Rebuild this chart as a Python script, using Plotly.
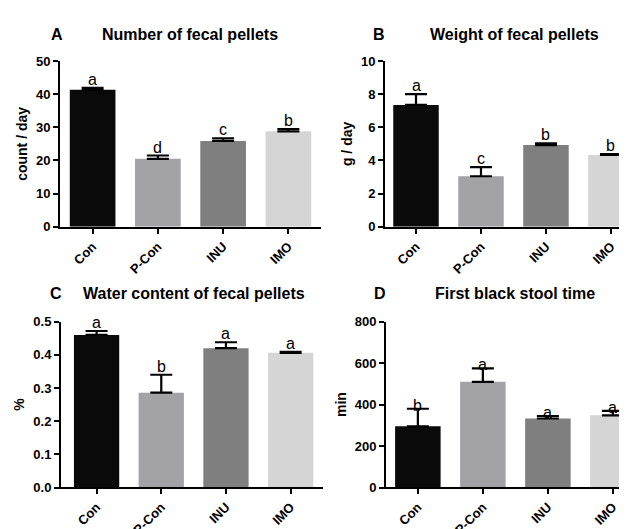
import plotly.graph_objects as go
from plotly.subplots import make_subplots

groups = ["Con", "P-Con", "INU", "IMO"]
colors = ["#0a0a0a", "#a2a2a7", "#7f7f7f", "#d5d5d5"]

pellet_count = [41.3, 20.5, 25.9, 28.8]
pellet_count_err = [0.6, 1.0, 0.8, 0.7]
pellet_count_sig = ["a", "d", "c", "b"]

pellet_weight = [7.35, 3.05, 4.93, 4.33]
pellet_weight_err = [0.65, 0.55, 0.1, 0.05]
pellet_weight_sig = ["a", "c", "b", "b"]

water_content = [0.460, 0.286, 0.420, 0.406]
water_content_err = [0.012, 0.054, 0.018, 0.003]
water_content_sig = ["a", "b", "a", "a"]

black_stool = [295, 510, 333, 348]
black_stool_err = [85, 65, 12, 22]
black_stool_sig = ["b", "a", "a", "a"]

panels = [
    dict(letter="A", title="Number of fecal pellets", ytitle="count / day",
         vals=pellet_count, err=pellet_count_err, sig=pellet_count_sig,
         yrange=[0, 50], dtick=10, fmt="d",
         xdom=[52/627, 313/627], ydom=[1-221/529, 1-48/529], xr=[-0.5, 3.5],
         lx=49, tx=182, ty=20, sigshift=-2),
    dict(letter="B", title="Weight of fecal pellets", ytitle="g / day",
         vals=pellet_weight, err=pellet_weight_err, sig=pellet_weight_sig,
         yrange=[0, 10], dtick=2, fmt="d",
         xdom=[377/627, 1.0], ydom=[1-221/529, 1-48/529], xr=[-0.477, 3.37],
         lx=371, tx=506, ty=20, sigshift=-2),
    dict(letter="C", title="Water content of fecal pellets", ytitle="%",
         vals=water_content, err=water_content_err, sig=water_content_sig,
         yrange=[0, 0.5], dtick=0.1, fmt=".1f",
         xdom=[53/627, 315/627], ydom=[1-493/529, 1-320/529], xr=[-0.55, 3.5],
         lx=48, tx=186, ty=291, sigshift=-2),
    dict(letter="D", title="First black stool time", ytitle="min",
         vals=black_stool, err=black_stool_err, sig=black_stool_sig,
         yrange=[0, 800], dtick=200, fmt="d",
         xdom=[378/627, 1.0], ydom=[1-493/529, 1-320/529], xr=[-0.49, 3.34],
         lx=372, tx=507, ty=291, sigshift=-7),
]

FONT = "Liberation Sans, Arial, sans-serif"

fig = make_subplots(rows=2, cols=2)
annotations = []
for i, p in enumerate(panels):
    r, c = i // 2 + 1, i % 2 + 1
    fig.add_trace(go.Bar(
        x=groups, y=p["vals"], width=0.7,
        marker=dict(color=colors, line=dict(width=0)),
        error_y=dict(type="data", symmetric=False, array=p["err"],
                     arrayminus=[0]*4, color="black", thickness=2.2, width=11),
        showlegend=False,
    ), row=r, col=c)
    suffix = "" if i == 0 else str(i + 1)
    fig.layout["xaxis" + suffix].update(
        domain=p["xdom"], range=p["xr"], showline=True, linecolor="black", linewidth=2,
        ticks="outside", ticklen=5, tickwidth=2, tickcolor="black", tickangle=-45,
        tickfont=dict(family=FONT, size=13, color="black", weight="bold"),
        showgrid=False, zeroline=False, fixedrange=True)
    fig.layout["yaxis" + suffix].update(
        domain=p["ydom"], range=p["yrange"], dtick=p["dtick"], tick0=0,
        tickformat=p["fmt"], showline=True, linecolor="black", linewidth=2,
        ticks="outside", ticklen=5, tickwidth=2, tickcolor="black",
        tickfont=dict(family=FONT, size=13, color="black", weight="bold"),
        title=dict(text=p["ytitle"], standoff=5,
                   font=dict(family=FONT, size=14, color="black", weight="bold")),
        showgrid=False, zeroline=False, fixedrange=True)
    xref = "x" + suffix
    yref = "y" + suffix
    for g, v, e, s in zip(groups, p["vals"], p["err"], p["sig"]):
        annotations.append(dict(x=g, y=v + e, xref=xref, yref=yref, text=s,
                                showarrow=False, yanchor="bottom", yshift=p["sigshift"],
                                font=dict(family=FONT, size=16, color="black")))
    annotations.append(dict(x=p["lx"]/627, y=1 - p["ty"]/529, xref="paper", yref="paper",
                            text=p["letter"], showarrow=False, xanchor="center", yanchor="middle",
                            font=dict(family=FONT, size=16, color="black", weight="bold")))
    annotations.append(dict(x=p["tx"]/627, y=1 - p["ty"]/529, xref="paper", yref="paper",
                            text=p["title"], showarrow=False, xanchor="center", yanchor="middle",
                            font=dict(family=FONT, size=16, color="black", weight="bold")))

fig.update_layout(
    width=627, height=529, margin=dict(l=0, r=0, t=0, b=0),
    paper_bgcolor="white", plot_bgcolor="white",
    annotations=annotations, bargap=0.3,
    font=dict(family=FONT, color="black"),
)
fig.write_html("out.html")
